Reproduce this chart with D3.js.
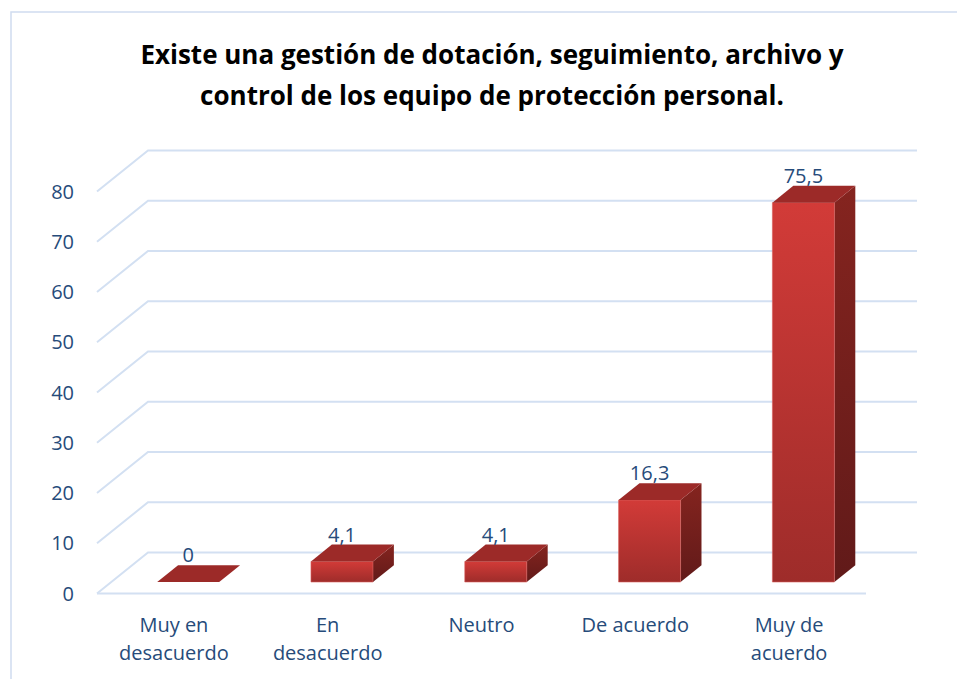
<!DOCTYPE html>
<html>
<head>
<meta charset="utf-8">
<script src="https://cdn.jsdelivr.net/npm/d3@7"></script>
<style>
  body { margin: 0; background: #fff; }
  svg { display: block; }
</style>
</head>
<body>
<svg id="chart" width="957" height="679"></svg>
<script>
// Data
const categories = [["Muy en", "desacuerdo"], ["En", "desacuerdo"], ["Neutro"], ["De acuerdo"], ["Muy de", "acuerdo"]];
const values = [0, 4.1, 4.1, 16.3, 75.5];
const valueLabels = ["0", "4,1", "4,1", "16,3", "75,5"];
const yTicks = [0, 10, 20, 30, 40, 50, 60, 70, 80];

const svg = d3.select("#chart");
const font = "'Open Sans', sans-serif";
const textColor = "#264b7a";
const gridColor = "#d3e0f2";

// plot geometry (front floor plane + depth vector)
const left = 97, right = 866, floorY = 593.5;
const depthX = 51, depthY = 41;

const x = d3.scaleBand().domain(d3.range(categories.length)).range([left, right]);
const y = d3.scaleLinear().domain([0, 80]).range([floorY, floorY - 402]);

// project (xFront, value, depth fraction) to screen
const proj = (px, v, d) => [px + d * depthX, y(v) - d * depthY];

// chart area border
svg.append("rect")
  .attr("x", 11).attr("y", 12).attr("width", 960).attr("height", 700)
  .attr("fill", "none").attr("stroke", "#cfdcef").attr("stroke-width", 1.5);

// title
const title = svg.append("text")
  .attr("text-anchor", "middle")
  .style("font-family", font).style("font-weight", "bold").style("font-size", "26px")
  .attr("fill", "#000");
title.append("tspan").attr("x", 492).attr("y", 64).text("Existe una gestión de dotación, seguimiento, archivo y");
title.append("tspan").attr("x", 492).attr("y", 105).text("control de los equipo de protección personal.");

// gradients
const defs = svg.append("defs");
const gFront = defs.append("linearGradient").attr("id", "gFront").attr("x1", 0).attr("y1", 0).attr("x2", 0).attr("y2", 1);
gFront.append("stop").attr("offset", "0%").attr("stop-color", "#d23b38");
gFront.append("stop").attr("offset", "100%").attr("stop-color", "#9e2c2a");
const gSide = defs.append("linearGradient").attr("id", "gSide").attr("x1", 0).attr("y1", 0).attr("x2", 0).attr("y2", 1);
gSide.append("stop").attr("offset", "0%").attr("stop-color", "#85241f");
gSide.append("stop").attr("offset", "100%").attr("stop-color", "#611a19");

// gridlines: slanted side wall + back wall
const grid = svg.append("g").attr("fill", "none").attr("stroke", gridColor).attr("stroke-width", 2);
yTicks.forEach(t => {
  const a = proj(left, t, 0), b = proj(left, t, 1), c = proj(right, t, 1);
  grid.append("path").attr("d", d3.line()([a, b, c]));
});
// front floor edge
grid.append("line")
  .attr("x1", left).attr("x2", right).attr("y1", floorY).attr("y2", floorY);

// y tick labels
svg.append("g").selectAll("text")
  .data(yTicks)
  .join("text")
  .attr("x", 74)
  .attr("y", d => y(d) + 7)
  .attr("text-anchor", "end")
  .style("font-family", font).style("font-size", "20px")
  .attr("fill", textColor)
  .text(d => d);

// bars
const d0 = 0.28, d1 = 0.69, half = 31;
const bars = svg.append("g");
values.forEach((v, i) => {
  const cx = x(i) + x.bandwidth() / 2;
  const xl = cx - half, xr = cx + half;
  const g = bars.append("g");
  const fbl = proj(xl, 0, d0), fbr = proj(xr, 0, d0), ftl = proj(xl, v, d0), ftr = proj(xr, v, d0);
  const bbr = proj(xr, 0, d1), btl = proj(xl, v, d1), btr = proj(xr, v, d1);
  if (v > 0) {
    g.append("path").attr("d", d3.line()([fbr, bbr, btr, ftr]) + "Z").attr("fill", "url(#gSide)");
    g.append("path").attr("d", d3.line()([fbl, fbr, ftr, ftl]) + "Z").attr("fill", "url(#gFront)")
      .attr("stroke", "#d9625e").attr("stroke-width", 0.6);
  }
  g.append("path").attr("d", d3.line()([ftl, ftr, btr, btl]) + "Z").attr("fill", "#9c2a28");

  // value label
  svg.append("text")
    .attr("x", cx + d0 * depthX)
    .attr("y", btl[1] - 3)
    .attr("text-anchor", "middle")
    .style("font-family", font).style("font-size", "20px")
    .attr("fill", textColor)
    .text(valueLabels[i]);
});

// category labels
const cat = svg.append("g");
categories.forEach((lines, i) => {
  const t = cat.append("text")
    .attr("text-anchor", "middle")
    .style("font-family", font).style("font-size", "20px")
    .attr("fill", textColor);
  lines.forEach((ln, j) => {
    t.append("tspan").attr("x", x(i) + x.bandwidth() / 2).attr("y", 632 + j * 28).text(ln);
  });
});
</script>
</body>
</html>
